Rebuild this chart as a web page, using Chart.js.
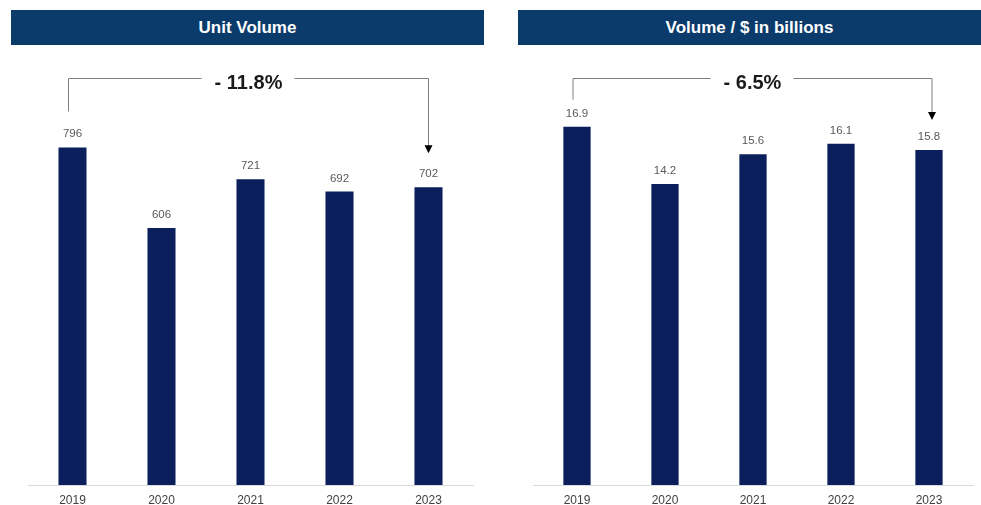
<!DOCTYPE html>
<html>
<head>
<meta charset="utf-8">
<script src="https://cdn.jsdelivr.net/npm/chart.js@4.4.1/dist/chart.umd.min.js"></script>
<style>
    body { margin: 0; background: #fff; width: 981px; height: 505px; overflow: hidden; position: relative; font-family: "Liberation Sans", Arial, sans-serif; }
    .header {
        position: absolute; top: 10px; height: 35px; line-height: 35px;
        background: #0b3b6b; color: #fff; font-weight: bold; font-size: 17px; text-align: center;
    }
    canvas { position: absolute; top: 0; }
</style>
</head>
<body>
<div class="header" style="left: 11px; width: 473px;">Unit Volume</div>
<div class="header" style="left: 518px; width: 463px;">Volume / $ in billions</div>
<canvas id="unitChart" width="490" height="505" style="left: 0;"></canvas>
<canvas id="dollarChart" width="481" height="505" style="left: 500px;"></canvas>

<script>
const years = ['2019', '2020', '2021', '2022', '2023'];
const unitVolume = [796, 606, 721, 692, 702];
const dollarVolume = [16.9, 14.2, 15.6, 16.1, 15.8];
const unitChange = '- 11.8%';
const dollarChange = '- 6.5%';

const barColor = '#0a1f5c';

// value printed above each bar
const valueLabels = {
    id: 'valueLabels',
    afterDatasetsDraw(chart, args, opts) {
        const ctx = chart.ctx;
        const meta = chart.getDatasetMeta(0);
        const values = chart.data.datasets[0].data;
        ctx.save();
        ctx.font = '11.5px "Liberation Sans", Arial, sans-serif';
        ctx.fillStyle = '#595959';
        ctx.textAlign = 'center';
        ctx.textBaseline = 'alphabetic';
        meta.data.forEach((bar, i) => {
            ctx.fillText(opts.format(values[i]), bar.x, bar.y - 10);
        });
        ctx.restore();
    }
};

// bracket from first to last bar with the % change in the middle
const bracket = {
    id: 'bracket',
    afterDatasetsDraw(chart, args, opts) {
        const ctx = chart.ctx;
        const meta = chart.getDatasetMeta(0);
        const a = meta.data[0];
        const b = meta.data[meta.data.length - 1];
        const x1 = a.x - 4;
        const x2 = b.x + opts.endShift;
        const yTop = chart.chartArea.top + 17.5;
        const y1 = a.y - opts.startGap;
        const y2 = b.y - opts.endGap;
        const xm = (x1 + x2) / 2;

        ctx.save();
        ctx.font = 'bold 20px "Liberation Sans", Arial, sans-serif';
        const tw = ctx.measureText(opts.text).width;

        ctx.strokeStyle = '#7f7f7f';
        ctx.lineWidth = 1;
        ctx.beginPath();
        ctx.moveTo(x1, y1);
        ctx.lineTo(x1, yTop);
        ctx.lineTo(xm - tw / 2 - 13, yTop);
        ctx.moveTo(xm + tw / 2 + 12, yTop);
        ctx.lineTo(x2, yTop);
        ctx.lineTo(x2, y2 - 6);
        ctx.stroke();

        ctx.fillStyle = '#000';
        ctx.beginPath();
        ctx.moveTo(x2 - 4, y2 - 8);
        ctx.lineTo(x2 + 4, y2 - 8);
        ctx.lineTo(x2, y2);
        ctx.closePath();
        ctx.fill();

        ctx.fillStyle = '#1a1a1a';
        ctx.textAlign = 'center';
        ctx.textBaseline = 'alphabetic';
        ctx.fillText(opts.text, xm, yTop + 10);
        ctx.restore();
    }
};

function makeChart(id, values, yMax, barPct, padding, fmt, bracketOpts) {
    return new Chart(document.getElementById(id), {
        type: 'bar',
        data: {
            labels: years,
            datasets: [{
                data: values,
                backgroundColor: barColor,
                borderWidth: 0,
                categoryPercentage: 1,
                barPercentage: barPct
            }]
        },
        options: {
            responsive: false,
            animation: false,
            layout: { padding: padding },
            plugins: {
                legend: { display: false },
                tooltip: { enabled: false },
                valueLabels: { format: fmt },
                bracket: bracketOpts
            },
            scales: {
                x: {
                    grid: { display: false, drawTicks: false },
                    border: { display: true, color: '#d9d9d9', width: 1 },
                    ticks: {
                        color: '#404040',
                        padding: 8,
                        font: { family: '"Liberation Sans", Arial, sans-serif', size: 12 }
                    },
                    afterFit: (s) => { s.height = 20; }
                },
                y: { display: false, min: 0, max: yMax }
            }
        },
        plugins: [valueLabels, bracket]
    });
}

makeChart('unitChart', unitVolume, 1000, 0.315,
    { left: 28, right: 17, top: 61, bottom: 0 },
    v => String(v),
    { text: unitChange, startGap: 36, endGap: 34, endShift: 0 });

makeChart('dollarChart', dollarVolume, 20, 0.31,
    { left: 33, right: 8, top: 61, bottom: 0 },
    v => v.toFixed(1),
    { text: dollarChange, startGap: 27, endGap: 30, endShift: 3 });
</script>
</body>
</html>
